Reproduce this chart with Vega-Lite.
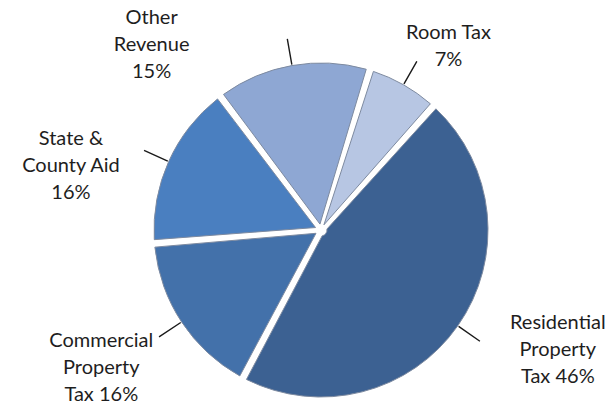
{
  "$schema": "https://vega.github.io/schema/vega-lite/v6.json",
  "width": 572,
  "height": 346,
  "autosize": {"type": "none"},
  "padding": {"left": 35, "top": 57, "right": 1, "bottom": 1},
  "background": "white",
  "config": {"view": {"stroke": null}},
  "data": {
    "values": [
      {"category": "Room Tax", "value": 7, "order": 1, "label": "Room Tax\n7%"},
      {"category": "Residential Property Tax", "value": 46, "order": 2, "label": "Residential\nProperty\nTax 46%"},
      {"category": "Commercial Property Tax", "value": 16, "order": 3, "label": "Commercial\nProperty\nTax 16%"},
      {"category": "State & County Aid", "value": 16, "order": 4, "label": "State &\nCounty Aid\n16%"},
      {"category": "Other Revenue", "value": 15, "order": 5, "label": "Other\nRevenue\n15%"}
    ]
  },
  "encoding": {
    "theta": {"field": "value", "type": "quantitative", "stack": true, "scale": {"range": [0.2967, 6.5799]}},
    "order": {"field": "order", "type": "quantitative"},
    "detail": {"field": "category", "type": "nominal"}
  },
  "layer": [
    {
      "mark": {"type": "arc", "radius": 167, "radius2": 6, "padAngle": 0.045, "stroke": "#7d8aa0", "strokeWidth": 1},
      "encoding": {
        "color": {
          "field": "category",
          "type": "nominal",
          "legend": null,
          "scale": {
            "domain": ["Room Tax", "Residential Property Tax", "Commercial Property Tax", "State & County Aid", "Other Revenue"],
            "range": ["#b7c6e3", "#3c6192", "#4371aa", "#4a7fc0", "#8ea7d3"]
          }
        }
      }
    },
    {
      "mark": {"type": "arc", "radius": 194, "radius2": 168, "padAngle": 3, "filled": false, "stroke": "#1a1a1a", "strokeWidth": 1.4}
    },
    {
      "mark": {
        "type": "text",
        "radius": 250,
        "font": "Lato",
        "fontSize": 20,
        "lineBreak": "\n",
        "lineHeight": 27,
        "fill": "#1e1e1e",
        "align": "center",
        "baseline": "middle",
        "dx": {"expr": "datum.order == 1 ? 4 : datum.order == 2 ? 32 : datum.order == 3 ? -11 : datum.order == 4 ? -22 : -126"},
        "dy": {"expr": "datum.order == 1 ? 20 : datum.order == 2 ? -50 : datum.order == 3 ? -27 : datum.order == 4 ? 11 : 34"}
      },
      "encoding": {"text": {"field": "label", "type": "nominal"}}
    }
  ]
}
